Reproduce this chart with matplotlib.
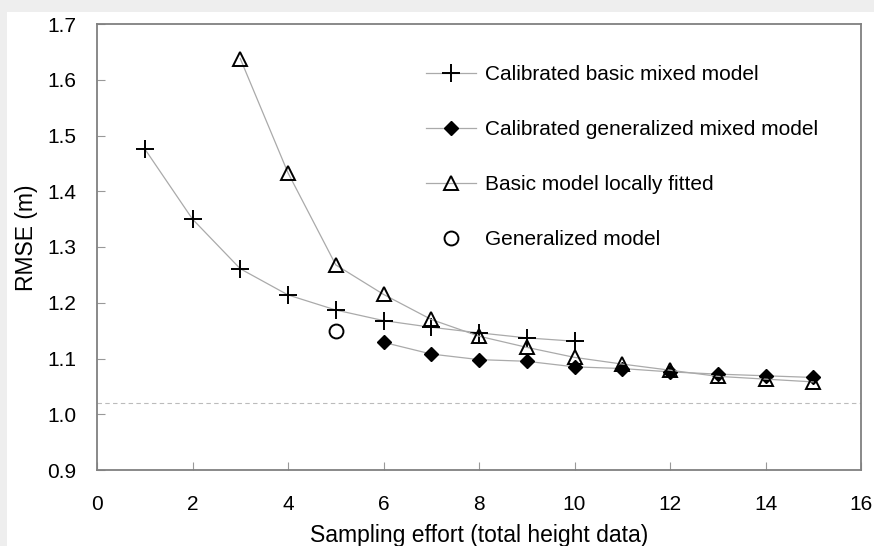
import matplotlib.pyplot as plt
from matplotlib.patches import Rectangle

plt.rcParams['font.family'] = ['Liberation Sans', 'DejaVu Sans']

# sampling effort
x_basic = [1, 2, 3, 4, 5, 6, 7, 8, 9, 10]
rmse_basic = [1.476, 1.350, 1.261, 1.214, 1.187, 1.168, 1.156, 1.146, 1.137, 1.131]

x_gen = [6, 7, 8, 9, 10, 11, 12, 13, 14, 15]
rmse_gen = [1.129, 1.108, 1.098, 1.095, 1.085, 1.082, 1.076, 1.072, 1.069, 1.066]

x_local = [3, 4, 5, 6, 7, 8, 9, 10, 11, 12, 13, 14, 15]
rmse_local = [1.638, 1.433, 1.268, 1.215, 1.170, 1.140, 1.120, 1.102, 1.090, 1.079, 1.068, 1.063, 1.058]

x_genmodel = [5]
rmse_genmodel = [1.149]

ref_level = 1.02

fig = plt.figure(figsize=(8.74, 5.46), dpi=100)
fig.patch.set_facecolor('#eeeeee')
fig.patches.append(Rectangle((7 / 874, 0), 1, 1 - 12 / 546, transform=fig.transFigure,
                             facecolor='white', edgecolor='none', zorder=-10))

ax = fig.add_axes([97 / 874, 1 - 470 / 546, (861 - 97) / 874, (470 - 24) / 546])
ax.set_facecolor('white')

line_c = '#aaaaaa'
ax.plot(x_basic, rmse_basic, color=line_c, lw=0.9, marker='+', ms=13, mew=1.4,
        mec='black', label='Calibrated basic mixed model')
ax.plot(x_gen, rmse_gen, color=line_c, lw=0.9, marker='D', ms=7, mfc='black',
        mec='black', label='Calibrated generalized mixed model')
ax.plot(x_local, rmse_local, color=line_c, lw=0.9, marker='^', ms=9.5, mfc='none',
        mew=1.4, mec='black', label='Basic model locally fitted')
ax.plot(x_genmodel, rmse_genmodel, ls='none', marker='o', ms=10, mfc='none',
        mew=1.4, mec='black', label='Generalized model')
ax.axhline(ref_level, color='#bbbbbb', lw=0.8, ls=(0, (4, 3)))

ax.set_xlim(0, 16)
ax.set_ylim(0.9, 1.7)
ax.set_xticks(range(0, 17, 2))
ax.set_yticks([0.9, 1.0, 1.1, 1.2, 1.3, 1.4, 1.5, 1.6, 1.7])
ax.set_yticklabels(['0.9', '1.0', '1.1', '1.2', '1.3', '1.4', '1.5', '1.6', '1.7'])
ax.tick_params(direction='in', length=6, color='#999999', labelsize=15)
ax.tick_params(axis='y', pad=15)
ax.tick_params(axis='x', pad=18)
for s in ax.spines.values():
    s.set_color('#808080')
    s.set_linewidth(1.3)

ax.set_xlabel('Sampling effort (total height data)', fontsize=16.5, labelpad=7)
ax.set_ylabel('RMSE (m)', fontsize=16.5)
ax.yaxis.set_label_coords(-0.077, 0.52)

ax.legend(loc='upper left', bbox_to_anchor=(0.42, 0.927), frameon=False,
          fontsize=15, labelspacing=1.73, handlelength=2.4, handletextpad=0.4,
          borderaxespad=0)

fig.savefig('out.png', dpi=100, facecolor=fig.get_facecolor())
